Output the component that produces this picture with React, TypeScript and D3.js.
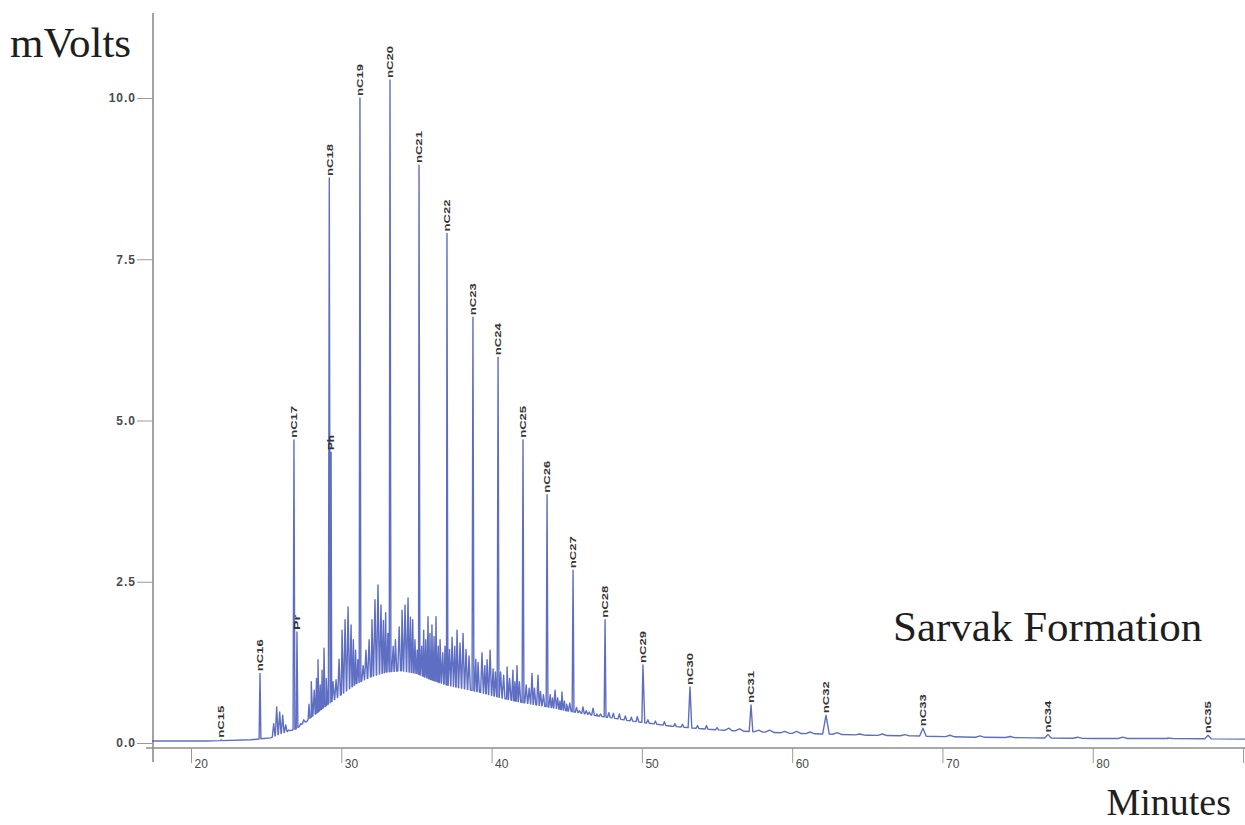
import { useEffect, useRef } from "react";
import * as d3 from "d3";

const W = 1245, H = 825;
const SERIF = "'Liberation Serif', 'Times New Roman', serif";
const SANS = "'Liberation Sans', Arial, sans-serif";

// lower envelope of the unresolved hump (minutes, mVolts)
const BASE_T = [17.4, 21, 24, 25.3, 26, 27, 28, 29, 30, 31, 32, 33, 34, 35, 36, 37, 38, 39, 40, 41, 42, 43, 44, 45, 46, 47, 48, 49, 50, 51, 52, 54, 56, 58, 60, 62, 65, 68, 72, 76, 80, 85, 90.3];
const BASE_V = [0.03, 0.03, 0.05, 0.08, 0.15, 0.22, 0.4, 0.58, 0.75, 0.92, 1.03, 1.1, 1.12, 1.08, 0.98, 0.9, 0.85, 0.8, 0.74, 0.68, 0.63, 0.59, 0.55, 0.5, 0.46, 0.42, 0.39, 0.35, 0.32, 0.29, 0.26, 0.22, 0.19, 0.17, 0.15, 0.14, 0.12, 0.11, 0.09, 0.08, 0.07, 0.07, 0.06];

// labelled peaks
const PEAK_LABELS = ["nC15", "nC16", "nC17", "Pr", "nC18", "Ph", "nC19", "nC20", "nC21", "nC22", "nC23", "nC24", "nC25", "nC26", "nC27", "nC28", "nC29", "nC30", "nC31", "nC32", "nC33", "nC34", "nC35"];
const PEAK_T = [22.0, 24.59, 26.85, 27.05, 29.2, 29.32, 31.24, 33.24, 35.17, 37.03, 38.76, 40.43, 42.09, 43.69, 45.42, 47.55, 50.07, 53.2, 57.26, 62.25, 68.7, 77.02, 87.67];
const PEAK_V = [0.05, 1.08, 4.7, 1.72, 8.76, 4.51, 10.0, 10.28, 8.96, 7.9, 6.6, 5.98, 4.7, 3.85, 2.68, 1.91, 1.21, 0.87, 0.59, 0.43, 0.23, 0.13, 0.12];

// unlabelled small peaks (noise on the hump)
const MINOR_T = [
  25.5, 25.7, 25.9, 26.1, 26.3, 26.5, 27.3, 27.5, 27.7, 27.85, 28.0, 28.2, 28.35, 28.45, 28.6, 28.72, 28.85, 29.0,
  29.45, 29.65, 29.85, 30.05, 30.25, 30.45, 30.65, 30.8, 30.95, 31.1, 31.45, 31.64, 31.85, 32.04, 32.24, 32.44,
  32.64, 32.8, 32.95, 33.1, 33.45, 33.6, 33.85, 34.04, 34.24, 34.44, 34.6, 34.75, 34.9, 35.05, 35.35, 35.48,
  35.62, 35.77, 35.9, 36.03, 36.17, 36.3, 36.45, 36.57, 36.75, 36.9, 37.2, 37.37, 37.55, 37.7, 37.9, 38.1,
  38.3, 38.5, 38.95, 39.1, 39.36, 39.55, 39.7, 39.9, 40.1, 40.25, 40.6, 40.8, 41.03, 41.2, 41.42, 41.55,
  41.69, 41.85, 42.3, 42.5, 42.69, 42.85, 43.09, 43.25, 43.45, 43.9, 44.05, 44.22, 44.4, 44.55, 44.68, 44.85,
  45.0, 45.2, 45.65, 45.85, 46.08, 46.3, 46.5, 46.75, 47.0, 47.25, 47.8, 48.1, 48.5, 48.9, 49.3, 49.7, 50.4,
  50.9, 51.5, 52.2, 52.7, 53.7, 54.3, 55.0, 55.8, 56.5, 57.8, 58.5, 59.5, 60.3, 61.2, 63.0, 64.5, 66.0, 67.5,
  70.5, 72.5, 74.5, 79, 82, 85,
];
const MINOR_V = [
  0.3, 0.56, 0.48, 0.43, 0.28, 0.2, 0.3, 0.36, 0.33, 0.6, 0.95, 0.82, 1.0, 1.29, 0.9, 1.13, 1.47, 1.0,
  0.95, 0.98, 1.3, 1.75, 1.91, 2.11, 1.83, 1.6, 1.44, 1.29, 1.2, 1.44, 1.6, 1.91, 2.22, 2.45,
  2.14, 1.9, 2.02, 1.7, 1.5, 1.6, 1.8, 2.06, 2.14, 2.25, 1.95, 1.91, 1.6, 1.44, 1.5, 1.75,
  1.6, 1.96, 1.7, 1.83, 1.65, 1.96, 1.5, 1.6, 1.4, 1.5, 1.45, 1.64, 1.5, 1.75, 1.55, 1.7,
  1.45, 1.35, 1.3, 1.25, 1.4, 1.2, 1.29, 1.44, 1.15, 1.1, 1.1, 1.05, 1.18, 1.0, 1.13, 0.95,
  1.2, 0.95, 0.9, 0.85, 1.08, 0.85, 1.05, 0.8, 0.75, 0.75, 0.7, 0.82, 0.7, 0.65, 0.79, 0.65,
  0.6, 0.62, 0.55, 0.5, 0.56, 0.5, 0.48, 0.54, 0.45, 0.45, 0.47, 0.46, 0.45, 0.42, 0.4, 0.41, 0.36,
  0.34, 0.33, 0.3, 0.29, 0.27, 0.27, 0.24, 0.23, 0.22, 0.2, 0.2, 0.18, 0.18, 0.17, 0.16, 0.14, 0.14, 0.13,
  0.12, 0.11, 0.1, 0.09, 0.09, 0.08,
];

const X_TICKS = [20, 30, 40, 50, 60, 70, 80, 90];
const Y_TICKS = [0, 2.5, 5, 7.5, 10];

export default function App() {
  const svgRef = useRef<SVGSVGElement>(null);

  useEffect(() => {
    const svg = d3.select(svgRef.current);
    svg.selectAll("*").remove();

    const x = d3.scaleLinear().domain([17.47, 90.13]).range([153, 1245]);
    const y = d3.scaleLinear().domain([0, 10]).range([743, 98]);
    const baseAt = d3.scaleLinear().domain(BASE_T).range(BASE_V).clamp(true);

    // ── axes ──
    const axisColor = "#8c8c8c";
    svg.append("line").attr("x1", 153).attr("x2", 153).attr("y1", 13).attr("y2", 762)
      .attr("stroke", axisColor).attr("stroke-width", 1.6);
    svg.append("line").attr("x1", 146).attr("x2", W).attr("y1", 748).attr("y2", 748)
      .attr("stroke", axisColor).attr("stroke-width", 1.6);

    const yAx = svg.append("g").attr("transform", "translate(153,0)")
      .call(d3.axisLeft(y).tickValues(Y_TICKS).tickSize(16).tickFormat(d3.format(".1f")));
    yAx.select(".domain").remove();
    yAx.selectAll(".tick line").attr("stroke", "#9a9a9a").attr("stroke-width", 1);
    yAx.selectAll("text").attr("fill", "#4a4a4a").attr("font-size", 12).attr("font-weight", "bold")
      .attr("font-family", SANS).attr("letter-spacing", 1).attr("x", -17);

    // the 90 tick sits on the right edge, its label is off the picture
    const xAx = svg.append("g").attr("transform", "translate(0,748)")
      .call(d3.axisBottom(x).tickValues(X_TICKS).tickSize(15)
        .tickFormat(d => (+d >= 90 ? "" : d3.format("d")(+d))));
    xAx.select(".domain").remove();
    xAx.selectAll(".tick line").attr("stroke", "#9a9a9a").attr("stroke-width", 1);
    xAx.selectAll("text").attr("fill", "#4a4a4a").attr("font-size", 12).attr("font-family", SANS)
      .attr("text-anchor", "start").attr("x", 3).attr("y", 11);

    // ── trace ──
    const pts: [number, number][] = BASE_T.map((t, i) => [t, BASE_V[i]]);
    const addPeak = (t: number, v: number, hw: number) => {
      pts.push([t - hw, baseAt(t - hw)], [t, v], [t + hw, baseAt(t + hw)]);
    };
    PEAK_T.forEach((t, i) => addPeak(t, PEAK_V[i], t > 60 ? 0.22 : t > 50 ? 0.12 : 0.06));
    MINOR_T.forEach((t, i) => addPeak(t, MINOR_V[i], t > 55 ? 0.3 : 0.09));
    pts.sort((a, b) => a[0] - b[0]);

    const line = d3.line<[number, number]>().x(d => x(d[0])).y(d => y(d[1]));
    svg.append("path").datum(pts).attr("d", line)
      .attr("fill", "none").attr("stroke", "#4255b8").attr("stroke-width", 1.4)
      .attr("stroke-opacity", 0.85).attr("stroke-linejoin", "round");

    // ── peak labels ──
    svg.append("g").selectAll("text").data(PEAK_LABELS).join("text")
      .attr("transform", (_, i) => `translate(${x(PEAK_T[i])},${y(PEAK_V[i]) - 2}) rotate(-90)`)
      .attr("dy", "0.35em")
      .attr("font-family", SANS).attr("font-size", 9.5).attr("font-weight", "bold").attr("fill", "#333")
      .attr("textLength", d => (d.length > 2 ? 32 : 15)).attr("lengthAdjust", "spacingAndGlyphs")
      .text(d => d);

    // ── titles ──
    svg.append("text").attr("x", 10).attr("y", 57).attr("font-family", SERIF).attr("font-size", 43)
      .attr("fill", "#1e1e1e").text("mVolts");
    svg.append("text").attr("x", 893).attr("y", 641).attr("font-family", SERIF).attr("font-size", 43)
      .attr("fill", "#1e1e1e").text("Sarvak Formation");
    svg.append("text").attr("x", 1231).attr("y", 815).attr("text-anchor", "end").attr("font-family", SERIF)
      .attr("font-size", 38).attr("fill", "#1e1e1e").text("Minutes");
  }, []);

  return (
    <svg ref={svgRef} width={W} height={H}
      style={{ position: "absolute", left: 0, top: 0, background: "#fff", display: "block" }} />
  );
}
